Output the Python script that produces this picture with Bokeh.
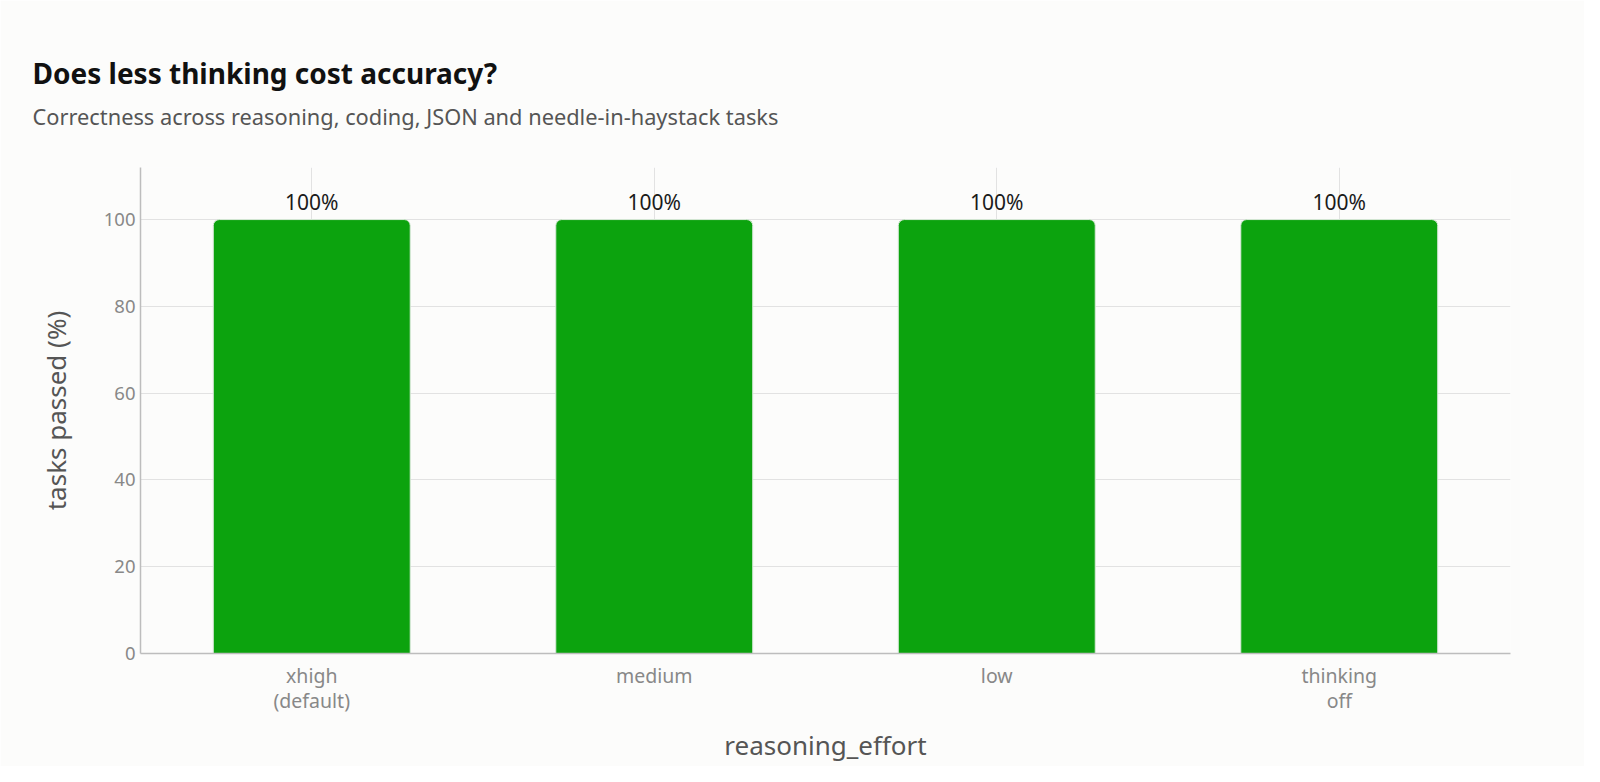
from bokeh.plotting import figure
from bokeh.models import ColumnDataSource, Title, Range1d, LabelSet
from bokeh.core.properties import value
from bokeh.embed import file_html
from bokeh.resources import INLINE

# data
efforts = ["xhigh\n(default)", "medium", "low", "thinking\noff"]
passed = [100, 100, 100, 100]
labels = ["100%", "100%", "100%", "100%"]

FONT = "Noto Sans"
BG = "#fcfcfb"

source = ColumnDataSource(data=dict(effort=efforts, passed=passed, label=labels))

p = figure(
    x_range=efforts,
    y_range=Range1d(0, 112),
    width=1584,
    height=766,
    title=None,
    toolbar_location=None,
    output_backend="svg",
    background_fill_color=BG,
    border_fill_color=BG,
    min_border_left=140,
    min_border_right=74,
    min_border_top=167,
    min_border_bottom=100,
)

# -----------------------------
# Titles (subtitle first, so the main title sits above it)
# -----------------------------
p.add_layout(Title(
    text="Correctness across reasoning, coding, JSON and needle-in-haystack tasks",
    text_font=FONT, text_font_size="21.8px", text_font_style="normal",
    text_color="#555555", offset=-108, standoff=74,
), "above")
p.add_layout(Title(
    text="Does less thinking cost accuracy?",
    text_font=FONT, text_font_size="28px", text_font_style="bold",
    text_color="#111111", offset=-108, standoff=-58,
), "above")

# -----------------------------
# Bars
# -----------------------------
p.vbar(
    x="effort", top="passed", width=0.575, source=source,
    fill_color="#0ca30e", line_color="#d8e8d8", line_width=1,
    border_radius=[6, 6, 0, 0],
)

p.add_layout(LabelSet(
    x="effort", y="passed", text="label", source=source,
    text_align="center", text_baseline="bottom", y_offset=4,
    text_font=value(FONT), text_font_size=value("21px"), text_color="#1a1a1a",
))

# -----------------------------
# Axes and grid
# -----------------------------
p.outline_line_color = None
p.xgrid.grid_line_color = "#e2e2e2"
p.ygrid.grid_line_color = "#e2e2e2"
p.yaxis.ticker = [0, 20, 40, 60, 80, 100]

for ax in (p.xaxis, p.yaxis):
    ax.axis_line_color = "#bdbdbd"
    ax.axis_line_width = 1.5
    ax.major_tick_line_color = None
    ax.minor_tick_line_color = None
    ax.major_label_text_font = FONT
    ax.major_label_text_color = "#888888"
    ax.axis_label_text_font = FONT
    ax.axis_label_text_font_size = "26px"
    ax.axis_label_text_font_style = "normal"
    ax.axis_label_text_color = "#555555"

p.xaxis.major_label_text_font_size = "19.5px"
p.xaxis.major_label_text_line_height = 0.95
p.yaxis.major_label_text_font_size = "18.5px"
p.yaxis.major_tick_out = 0
p.yaxis.minor_tick_out = 0

p.xaxis.axis_label = "reasoning_effort"
p.yaxis.axis_label = "tasks passed (%)"
p.xaxis.major_label_standoff = 2
p.yaxis.major_label_standoff = 5
p.xaxis.axis_label_standoff = 10
p.yaxis.axis_label_standoff = 27

open("out.html", "w").write(file_html(p, INLINE))
